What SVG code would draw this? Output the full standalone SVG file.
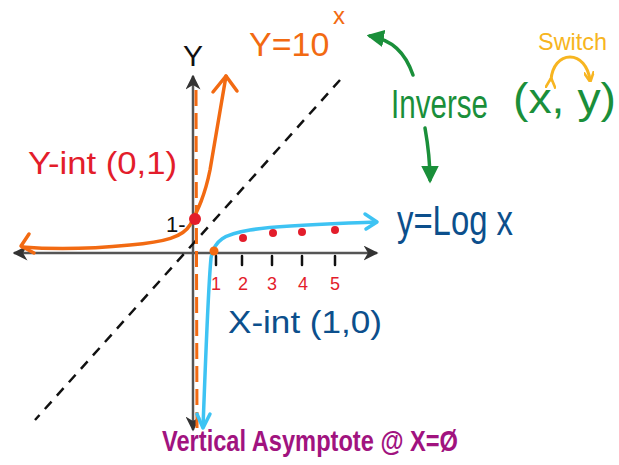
<svg xmlns="http://www.w3.org/2000/svg" width="619" height="465" viewBox="0 0 619 465">
<defs>
<style>
.t{font-family:"Liberation Sans","DejaVu Sans",sans-serif;}
.axis{stroke:#555;stroke-width:2.5;fill:none;}
.orange{stroke:#f26a12;stroke-width:3.5;fill:none;stroke-linecap:round;stroke-linejoin:round;}
.blue{stroke:#3ec3f3;stroke-width:3.5;fill:none;stroke-linecap:round;stroke-linejoin:round;}
.green{stroke:#1a8f3a;stroke-width:3.5;fill:none;stroke-linecap:round;}
.yellow{stroke:#f7b521;stroke-width:3;fill:none;stroke-linecap:round;}
.tick{stroke:#111;stroke-width:2.5;stroke-linecap:round;}
</style>
<marker id="axh" viewBox="0 0 10 10" refX="9" refY="5" markerWidth="6" markerHeight="6" orient="auto" markerUnits="strokeWidth">
<path d="M0,0 L10,5 L0,10 L3,5 Z" fill="#333"/>
</marker>
<marker id="gh" viewBox="0 0 10 10" refX="8" refY="5" markerWidth="5" markerHeight="5" orient="auto" markerUnits="strokeWidth">
<path d="M0,0 L10,5 L0,10 Z" fill="#1a8f3a"/>
</marker>
<marker id="yh" viewBox="0 0 10 10" refX="8" refY="5" markerWidth="3.5" markerHeight="3.5" orient="auto" markerUnits="strokeWidth">
<path d="M0,0 L10,5 L0,10" fill="none" stroke="#f7b521" stroke-width="2.5"/>
</marker>
</defs>
<rect width="619" height="465" fill="#fff"/>
<g id="connectors">
<line id="x-axis" class="axis" x1="193" y1="253" x2="14" y2="253" marker-end="url(#axh)"/>
<line id="x-axis-r" class="axis" x1="193" y1="253" x2="377" y2="253" marker-end="url(#axh)"/>
<line id="y-axis" class="axis" x1="193" y1="253" x2="193" y2="76" marker-end="url(#axh)"/>
<line id="y-axis-d" class="axis" x1="193" y1="253" x2="193" y2="430" marker-end="url(#axh)"/>
<line id="diag" x1="340" y1="80" x2="35" y2="420" stroke="#111" stroke-width="2.5" stroke-dasharray="10 8"/>
<line id="asym" x1="196" y1="90" x2="197" y2="428" stroke="#f26a12" stroke-width="3" stroke-dasharray="16 7"/>
<path id="exp-curve" class="orange" d="M22,247 C60,250 90,249 130,245 C165,242 183,237 190,225 C198,210 205,195 210,170 C215,140 220,110 226,76"/>
<path class="orange" d="M213,92 L226,76 L237,91"/>
<path class="orange" d="M29,234 L21,246 L34,253"/>
<path id="log-curve" class="blue" d="M376,222 C330,224 280,225 250,230 C225,234 214,240 211,258 C208,290 206,350 203,427"/>
<path class="blue" d="M365,214 L377,222 L366,229"/>
<path class="blue" d="M197,414 L203,428 L210,414"/>
<path id="inv-up" class="green" d="M413,75 C405,52 392,40 370,36" marker-end="url(#gh)"/>
<path id="inv-down" class="green" d="M425,128 C428,145 430,160 430,180" marker-end="url(#gh)"/>
<path id="switch-arrow" class="yellow" d="M551,80 C552,66 560,57 570,57 C580,57 588,66 590,80" marker-start="url(#yh)" marker-end="url(#yh)"/>
</g>
<g id="ticks">
<line class="tick" x1="216" y1="256" x2="216" y2="265"/>
<line class="tick" x1="242" y1="256" x2="242" y2="265"/>
<line class="tick" x1="272" y1="256" x2="272" y2="265"/>
<line class="tick" x1="302" y1="256" x2="302" y2="265"/>
<line class="tick" x1="335" y1="256" x2="335" y2="265"/>
</g>
<g id="points">
<circle cx="195" cy="219" r="6" fill="#e31d2b"/>
<circle cx="214" cy="251" r="4.5" fill="#f26a12"/>
<circle cx="243" cy="238" r="4" fill="#e31d2b"/>
<circle cx="273" cy="233" r="4" fill="#e31d2b"/>
<circle cx="302" cy="232" r="4" fill="#e31d2b"/>
<circle cx="335" cy="230" r="4" fill="#e31d2b"/>
</g>
<g id="label-y"><text class="t" x="193" y="66" font-size="30" text-anchor="middle" fill="#111">Y</text></g>
<g id="label-one"><text class="t" x="166" y="232" font-size="22" fill="#111">1-</text></g>
<g id="label-exp"><text class="t" x="249" y="56" font-size="34" fill="#f26a12">Y=10</text><text class="t" x="333" y="24" font-size="24" fill="#f26a12">x</text></g>
<g id="label-yint"><text class="t" x="28" y="174" font-size="31" fill="#e31d2b" textLength="149" lengthAdjust="spacingAndGlyphs">Y-int (0,1)</text></g>
<g id="label-inverse"><text class="t" x="391" y="118" font-size="40" fill="#1a8f3a" textLength="97" lengthAdjust="spacingAndGlyphs">Inverse</text></g>
<g id="label-xy"><text class="t" x="513" y="113" font-size="42" fill="#1a8f3a" textLength="103" lengthAdjust="spacingAndGlyphs">(x, y)</text></g>
<g id="label-switch"><text class="t" x="538" y="50" font-size="24" fill="#f7b521" textLength="69" lengthAdjust="spacingAndGlyphs">Switch</text></g>
<g id="label-log"><text class="t" x="397" y="235" font-size="42" fill="#0c4f8c" textLength="116" lengthAdjust="spacingAndGlyphs">y=Log x</text></g>
<g id="label-xint"><text class="t" x="228" y="333" font-size="32" fill="#0c4f8c" textLength="154" lengthAdjust="spacingAndGlyphs">X-int (1,0)</text></g>
<g id="label-nums" fill="#e31d2b">
<text class="t" x="216" y="290" font-size="18" text-anchor="middle">1</text>
<text class="t" x="243" y="290" font-size="18" text-anchor="middle">2</text>
<text class="t" x="272" y="290" font-size="18" text-anchor="middle">3</text>
<text class="t" x="303" y="290" font-size="18" text-anchor="middle">4</text>
<text class="t" x="335" y="290" font-size="18" text-anchor="middle">5</text>
</g>
<g id="label-asym"><text class="t" x="162" y="451" font-size="30" font-weight="bold" fill="#a1137f" textLength="296" lengthAdjust="spacingAndGlyphs">Vertical Asymptote @ X=Ø</text></g>
</svg>
